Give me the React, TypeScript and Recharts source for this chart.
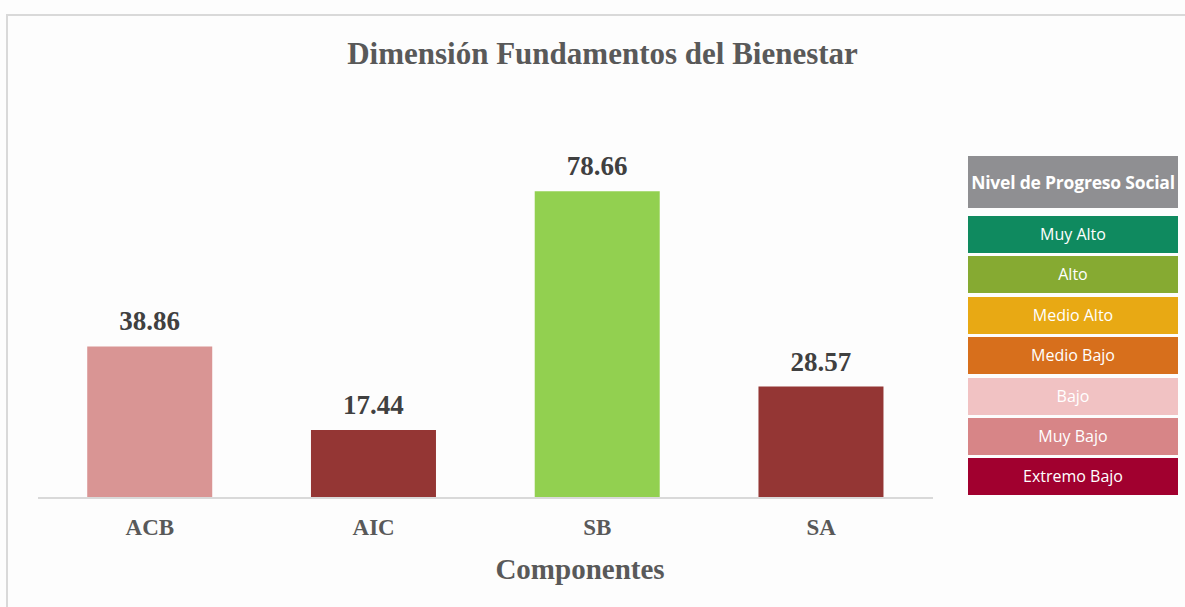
import { Bar, BarChart, Cell, LabelList, XAxis, YAxis } from "recharts";

const categories = ["ACB", "AIC", "SB", "SA"];
const values = [38.86, 17.44, 78.66, 28.57];
const barColors = ["#d99594", "#943634", "#92d050", "#943634"];

const levelNames = [
  "Muy Alto",
  "Alto",
  "Medio Alto",
  "Medio Bajo",
  "Bajo",
  "Muy Bajo",
  "Extremo Bajo",
];
const levelColors = [
  "#0f8a5f",
  "#86aa32",
  "#e8a914",
  "#d76f1c",
  "#f1c2c3",
  "#d78587",
  "#a1002f",
];

const data = categories.map((name, i) => ({ name, value: values[i] }));

const serif = "'Liberation Serif', 'Times New Roman', serif";
const legendFont = "'Open Sans', Lato, sans-serif";

export default function App() {
  return (
    <div
      style={{
        position: "absolute",
        left: 0,
        top: 0,
        width: 1185,
        height: 607,
        background: "#fdfdfd",
        overflow: "hidden",
      }}
    >
      <div
        style={{
          position: "absolute",
          left: 6,
          top: 14,
          width: 1185,
          height: 600,
          borderLeft: "2px solid #d9d9d9",
          borderTop: "2px solid #d9d9d9",
        }}
      />
      <div
        style={{
          position: "absolute",
          left: 0,
          width: 1205,
          top: 36,
          textAlign: "center",
          fontFamily: serif,
          fontWeight: "bold",
          fontSize: 31,
          color: "#595959",
        }}
      >
        Dimensión Fundamentos del Bienestar
      </div>
      <div style={{ position: "absolute", left: 0, top: 0 }}>
        <BarChart
          width={960}
          height={607}
          data={data}
          margin={{ top: 108, left: 38, right: 27, bottom: 0 }}
          barCategoryGap="22%"
        >
          <YAxis hide domain={[0, 100]} />
          <XAxis
            dataKey="name"
            height={109}
            axisLine={{ stroke: "#d9d9d9", strokeWidth: 2 }}
            tickLine={false}
            tickSize={0}
            tickMargin={21}
            tick={{
              fill: "#595959",
              fontSize: 23,
              fontWeight: "bold",
              fontFamily: serif,
            }}
          />
          <Bar dataKey="value" isAnimationActive={false}>
            {data.map((d, i) => (
              <Cell key={d.name} fill={barColors[i]} />
            ))}
            <LabelList
              dataKey="value"
              position="top"
              offset={16}
              formatter={(v: number) => v.toFixed(2)}
              style={{
                fill: "#404040",
                fontSize: 27,
                fontWeight: "bold",
                fontFamily: serif,
              }}
            />
          </Bar>
        </BarChart>
      </div>
      <div
        style={{
          position: "absolute",
          left: 380,
          width: 400,
          top: 553,
          textAlign: "center",
          fontFamily: serif,
          fontWeight: "bold",
          fontSize: 29,
          color: "#595959",
        }}
      >
        Componentes
      </div>
      <div
        style={{
          position: "absolute",
          left: 968,
          top: 156,
          width: 210,
          fontFamily: legendFont,
          color: "#fff",
          textAlign: "center",
        }}
      >
        <div
          style={{
            height: 52,
            lineHeight: "52px",
            background: "#8f8f92",
            fontWeight: "bold",
            fontSize: 17.5,
            marginBottom: 8,
            whiteSpace: "nowrap",
            letterSpacing: -0.2,
          }}
        >
          Nivel de Progreso Social
        </div>
        {levelNames.map((name, i) => (
          <div
            key={name}
            style={{
              height: 37,
              lineHeight: "37px",
              background: levelColors[i],
              fontSize: 16,
              marginBottom: 3.4,
            }}
          >
            {name}
          </div>
        ))}
      </div>
    </div>
  );
}
